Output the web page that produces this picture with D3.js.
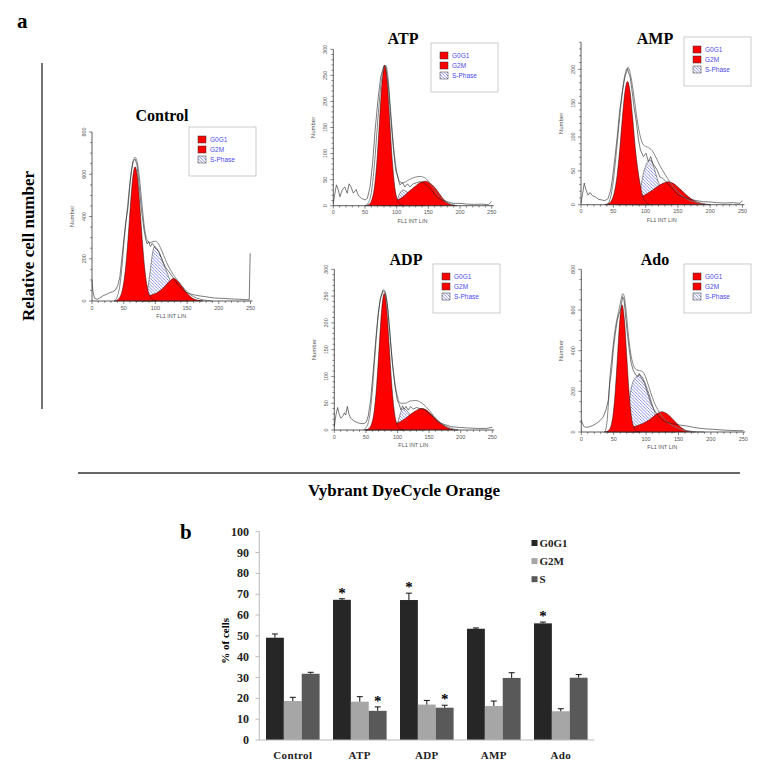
<!DOCTYPE html>
<html><head><meta charset="utf-8">
<script src="https://cdn.jsdelivr.net/npm/d3@7"></script>
<style>body{margin:0;background:#fff}</style>
</head><body>
<svg id="c" width="774" height="775" xmlns="http://www.w3.org/2000/svg"></svg>
<script>
// ================= Panel b data =================
const categories = ["Control", "ATP", "ADP", "AMP", "Ado"];
const seriesNames = ["G0G1", "G2M", "S"];
const g0g1Values = [49.1, 67.3, 67.2, 53.4, 56.0];
const g0g1Errors = [1.8, 0.5, 3.3, 0.4, 0.6];
const g2mValues = [18.7, 18.4, 17.0, 16.3, 13.8];
const g2mErrors = [1.8, 2.4, 2.0, 2.4, 1.2];
const sValues = [31.8, 14.0, 15.5, 29.8, 29.9];
const sErrors = [0.7, 1.9, 1.2, 2.5, 1.5];
const g0g1Signif = [false, true, true, false, true];
const g2mSignif = [false, false, false, false, false];
const sSignif = [false, true, true, false, false];
const barTicks = [0, 10, 20, 30, 40, 50, 60, 70, 80, 90, 100];

// ================= Panel a data (histograms, [FL1, count]) =================
const histTitles = ["Control", "ATP", "AMP", "ADP", "Ado"];
const histLegend = ["G0G1", "G2M", "S-Phase"];
const histXTicks = [0, 50, 100, 150, 200, 250];
const controlYTicks = [0, 200, 400, 600, 800];
const atpYTicks = [0, 50, 100, 150, 200, 250, 300];
const ampYTicks = [0, 50, 100, 150, 200];
const adpYTicks = [0, 50, 100, 150, 200, 250, 300];
const adoYTicks = [0, 200, 400, 600, 800];

const controlData = [[0,100],[1.6,44],[4,13],[8,8],[12,14],[17,24],[23,32],[28,40],[33,44],[37,52],[41,76],[44,115],[46,171],[49,258],[53,368],[57,447],[59.5,542],[62,613],[65,661],[68,672],[71,645],[74,558],[78,432],[82,337],[85,289],[87,270],[89.5,281],[92,258],[95,273],[99,255],[102.6,242],[105,236],[107,223],[111,194],[115,163],[118,152],[120,144],[125,123],[130.5,100],[136,76],[141,60],[149,40],[155,34],[159.5,30],[163,28],[170,24],[178,21],[186,17],[193,14],[201.6,13],[210,12],[217,10],[225,9],[233,8],[240,7],[248,5],[249.5,226]];
const controlFit = [[35,0],[40,22],[44,75],[47,155],[50,262],[54,385],[58,505],[62,612],[65,664],[68,680],[71,662],[75,578],[79,452],[83,342],[87,288],[91,276],[96,281],[100,283],[104,274],[108,252],[113,216],[118,181],[123,151],[128,126],[133,105],[138,86],[145,60],[152,38],[160,21],[170,9],[180,3],[190,0]];
const controlG0G1 = [[35,0],[38,2],[41,7],[44,18],[47,42],[50,86],[53,158],[56,261],[59,385],[62,509],[65,601],[68,635],[71,601],[74,509],[77,385],[80,261],[83,158],[86,86],[89,42],[92,18],[95,7],[98,2],[101,0]];
const controlG2M = [[68,0],[75,5],[80,12],[85,20],[90,25],[95,30],[100,35],[105,44],[110,56],[115,70],[120,87],[125,101],[128,107],[133,101],[138,86],[143,65],[148,44],[153,27],[158,14],[163,7],[168,3],[175,0]];
const controlS = [[80,0],[84,10],[87,40],[90,100],[93,170],[96,235],[99,258],[103,245],[107,220],[111,190],[115,160],[119,130],[123,100],[127,75],[131,50],[135,30],[140,12],[146,3],[152,0]];

const atpData = [[0,4],[2,20],[5,40],[8,30],[10.5,17],[14,30],[18,36],[22,24],[25,42],[28,36],[31.6,24],[36,31],[39.5,20],[44.7,14],[50,11],[53.7,14],[58,36],[62,81],[66,145],[71,209],[75,248],[80,268],[83,265],[87,228],[90.5,171],[95,107],[98.4,68],[101.6,56],[105,40],[109.5,44],[113,36],[117,42],[121,36],[126,42],[131.6,44],[137,46],[143,43],[150,36],[157,27],[163,17],[171,11],[179,8],[189,4.5],[200,4.5],[210.5,3],[221,2.5],[234,3],[245,2],[250,8]];
const atpFit = [[50,0],[55,5],[60,25],[65,80],[70,160],[75,230],[80,266],[83,269],[86,250],[90,190],[95,115],[100,66],[105,46],[110,44],[120,50],[130,55],[137,56],[145,53],[152,44],[160,30],[168,17],[176,8],[185,3],[195,0]];
const atpG0G1 = [[50,0],[53,1],[57,3],[61,12],[65,36],[69,88],[73,164],[77,238],[81,270],[85,238],[89,164],[93,88],[97,36],[101,12],[105,3],[109,1],[112,0]];
const atpG2M = [[75,0],[80,2],[90,5],[100,10],[110,17],[120,28],[130,38],[138,45],[145,47],[152,44],[160,35],[168,22],[175,11],[182,4],[190,1],[195,0]];
const atpS = [[97,0],[100,8],[103,18],[106,26],[110,30],[114,28],[118,25],[122,22],[126,18],[130,12],[135,6],[140,2],[145,0]];

const ampData = [[0,2],[2.6,17],[5,32],[7.7,22],[11,14],[14,18],[18,13],[21.7,12],[27,8],[32,7],[37,6],[42,9],[46,22],[49,41],[52.7,71],[56,100],[60,140],[64.6,169],[68,189],[70.8,197],[72,201],[74,194],[76,189],[78.5,172],[82,145],[86,120],[89,96],[92,81],[96.6,71],[100.7,76],[104,64],[108,71],[111,61],[114.7,56],[118,51],[122,41],[126.5,39],[131.7,34],[138,27],[144,21],[151,14],[158.6,11],[169,8],[179,6],[189.6,4.4],[200,4],[210,3],[223,2.5],[236,3],[246,2],[250,6]];
const ampFit = [[40,0],[45,8],[50,35],[55,80],[60,130],[65,175],[70,199],[73,203],[77,190],[82,160],[87,125],[92,100],[97,88],[103,85],[110,80],[116,70],[122,58],[130,45],[138,33],[146,23],[155,14],[165,8],[175,4],[185,2],[195,0]];
const ampG0G1 = [[37,0],[40,1],[44,2.4],[48,7.5],[52,20],[56,44],[60,82],[64,128],[68,167],[72,182],[76,167],[80,128],[84,84],[88,52],[92,28],[96,11],[100,4],[104,1],[107,0]];
const ampG2M = [[55,0],[60,1],[70,3],[80,6],[90,10],[100,15],[110,21],[120,28],[128,32],[135,34],[142,32],[150,26],[158,19],[166,12],[175,6],[185,2.5],[195,0.5],[200,0]];
const ampS = [[86,0],[90,10],[93,28],[96,44],[100,57],[104,64],[108,66],[112,58],[116,45],[120,33],[125,20],[130,10],[136,4],[142,0]];

const adpData = [[0,6],[2.6,28],[5.3,42],[8,28],[10.5,22],[13,25],[16,32],[18,28],[20.6,44],[23,30],[26,22],[31,17],[36,14],[41.7,12],[47,12],[51,15.5],[54,28],[57.5,56],[61.7,112],[66,174],[69.6,218],[73,246],[77.5,260],[80.7,256],[84,233],[88,180],[92,124],[96,81],[99.7,56],[103,47],[105.5,37],[108,45],[110.8,39],[113.4,44],[117,37],[120.8,44],[125,39],[130,42],[135.5,40],[142,39],[148.7,32],[155.6,25],[162,17],[170,12],[177.7,9],[185.7,6],[196,5],[209,4],[225,3],[241,3],[250,5]];
const adpFit = [[45,0],[50,4],[55,20],[60,70],[65,150],[70,220],[75,255],[78,262],[82,250],[86,210],[90,150],[95,95],[100,62],[105,50],[112,50],[120,54],[128,55],[135,53],[142,47],[150,37],[158,25],[166,15],[175,8],[185,3],[195,0]];
const adpG0G1 = [[48,0],[51,0.6],[55,3],[59,11],[63,34],[67,83],[71,155],[75,225],[79,255],[83,225],[87,155],[91,83],[95,34],[99,11],[103,3],[107,0.6],[110,0]];
const adpG2M = [[50,0],[55,1],[65,2],[75,4],[85,7],[95,11],[105,16],[115,24],[125,33],[132,38],[138,40],[145,38],[152,31],[160,22],[168,13],[176,6],[184,2],[192,0.5],[196,0]];
const adpS = [[96,0],[100,12],[103,25],[106,35],[109,40],[113,38],[117,33],[121,27],[126,18],[132,9],[138,3],[144,0]];

const adoData = [[0,59],[2,39],[4.6,26],[8,23],[13,26],[18.5,33],[23.7,43],[29,56],[34,75],[38,108],[41.7,157],[44,239],[46.8,305],[49.4,403],[52.5,485],[55.6,551],[58.6,583],[61,608],[63.8,665],[66,649],[68,583],[71,485],[74,403],[77,338],[80,305],[84,280],[87,272],[89.5,288],[91.6,272],[94.7,256],[97.7,239],[100.8,206],[104,174],[107.5,141],[111,116],[116,92],[122,67],[129,51],[137,43],[144.5,39],[152,34],[162.5,30],[173,23],[183,18],[193,15],[204,13],[216.6,10],[229,8],[242,6.5],[250,6.5]];
const adoFit = [[36,0],[38,15],[40,60],[42,150],[44,260],[47,360],[50,450],[53,520],[56,570],[59,612],[62,662],[64,680],[66,670],[69,600],[72,500],[76,392],[80,332],[85,306],[90,302],[94,298],[98,280],[102,245],[107,195],[112,150],[118,110],[124,80],[130,58],[137,40],[145,25],[155,12],[165,5],[178,1],[190,0]];
const adoG0G1 = [[35,0],[38,1.4],[42,7],[45.5,27],[49,84],[52.5,203],[56,379],[59.5,551],[63,625],[66.5,551],[70,379],[73.5,203],[77,84],[80.5,27],[84,7],[87.5,1.4],[90,0]];
const adoG2M = [[40,0],[45,2],[55,6],[65,12],[75,20],[85,30],[95,42],[105,60],[112,78],[118,92],[124,100],[130,94],[136,80],[142,60],[148,40],[154,22],[160,10],[166,4],[172,1],[176,0]];
const adoS = [[68,0],[71,60],[74,150],[77,215],[81,255],[85,272],[90,280],[94,270],[98,245],[102,210],[106,172],[110,130],[114,90],[118,60],[122,38],[127,20],[133,8],[140,2],[146,0]];

// ================= Drawing =================
const svg = d3.select("#c");
const SERIF = "'Liberation Serif','Times New Roman',serif";
const SANS = "'Liberation Sans',Arial,sans-serif";

const defs = svg.append("defs");
const pat = defs.append("pattern").attr("id", "hatch").attr("patternUnits", "userSpaceOnUse")
  .attr("width", 3.2).attr("height", 3.2);
pat.append("rect").attr("width", 3.2).attr("height", 3.2).attr("fill", "#fff");
pat.append("path").attr("d", "M-0.8,-0.8L4,4M-0.8,2.4L0.8,4M2.4,-0.8L4,0.8")
  .attr("stroke", "#5b63d6").attr("stroke-width", 0.7);

// Layout (pixel geometry) of each histogram panel
const panels = [
  {title: histTitles[0], x0: 92, x1: 250.5, y0: 301, yRef: 800, yRefPx: 132, yTop: 800, yTicks: controlYTicks, minor: 50,
   leg: [189, 127], tpos: [162, 121], data: controlData, fit: controlFit, g1: controlG0G1, g2: controlG2M, s: controlS},
  {title: histTitles[1], x0: 333.3, x1: 491.7, y0: 205.7, yRef: 300, yRefPx: 49.3, yTop: 300, yTicks: atpYTicks, minor: 10,
   leg: [431, 43], tpos: [403, 44], data: atpData, fit: atpFit, g1: atpG0G1, g2: atpG2M, s: atpS},
  {title: histTitles[2], x0: 581, x1: 742.5, y0: 204.7, yRef: 200, yRefPx: 69.3, yTop: 240, yTicks: ampYTicks, minor: 10,
   leg: [684, 37], tpos: [655, 44], data: ampData, fit: ampFit, g1: ampG0G1, g2: ampG2M, s: ampS},
  {title: histTitles[3], x0: 334.3, x1: 492.3, y0: 430, yRef: 300, yRefPx: 269.3, yTop: 300, yTicks: adpYTicks, minor: 10,
   leg: [433, 264], tpos: [406, 265], data: adpData, fit: adpFit, g1: adpG0G1, g2: adpG2M, s: adpS},
  {title: histTitles[4], x0: 581.3, x1: 743.3, y0: 432, yRef: 800, yRefPx: 269.3, yTop: 800, yTicks: adoYTicks, minor: 50,
   leg: [684, 264], tpos: [655, 265], data: adoData, fit: adoFit, g1: adoG0G1, g2: adoG2M, s: adoS}
];

function drawHist(p) {
  const g = svg.append("g");
  const x = d3.scaleLinear().domain([0, 250]).range([p.x0, p.x1]);
  const y = d3.scaleLinear().domain([0, p.yRef]).range([p.y0, p.yRefPx]);
  const area = d3.area().x(d => x(d[0])).y0(y(0)).y1(d => y(d[1])).curve(d3.curveMonotoneX);
  const smooth = d3.line().x(d => x(d[0])).y(d => y(d[1])).curve(d3.curveMonotoneX);
  const jag = d3.line().x(d => x(d[0])).y(d => y(d[1]));

  g.append("path").datum(p.s).attr("d", area).attr("fill", "url(#hatch)")
    .attr("stroke", "#333").attr("stroke-width", 0.5);
  g.append("path").datum(p.g2).attr("d", area).attr("fill", "#ff0000")
    .attr("stroke", "#300").attr("stroke-width", 0.5);
  g.append("path").datum(p.g1).attr("d", area).attr("fill", "#ff0000")
    .attr("stroke", "#300").attr("stroke-width", 0.5);
  g.append("path").datum(p.fit).attr("d", smooth).attr("fill", "none")
    .attr("stroke", "#777").attr("stroke-width", 0.9);
  g.append("path").datum(p.data).attr("d", jag).attr("fill", "none")
    .attr("stroke", "#222").attr("stroke-width", 0.6);

  // x axis
  const xa = g.append("g").attr("transform", `translate(0,${p.y0})`);
  xa.append("line").attr("x1", x(0)).attr("x2", x(253)).attr("stroke", "#333").attr("stroke-width", 0.8);
  xa.selectAll("line.mt").data(d3.range(0, 251, 10)).join("line").attr("class", "mt")
    .attr("x1", d => x(d)).attr("x2", d => x(d)).attr("y1", 0)
    .attr("y2", d => d % 50 === 0 ? 3 : 1.8).attr("stroke", "#333").attr("stroke-width", 0.6);
  xa.selectAll("text").data(histXTicks).join("text")
    .attr("x", d => x(d)).attr("y", 8.5).attr("text-anchor", "middle")
    .attr("font-family", SANS).attr("font-size", 5.5).attr("fill", "#555").text(d => d);
  g.append("text").attr("x", (x(0) + x(250)) / 2).attr("y", p.y0 + 17)
    .attr("text-anchor", "middle").attr("font-family", SANS).attr("font-size", 5.5)
    .attr("fill", "#555").text("FL1 INT LIN");

  // y axis
  const ya = g.append("g").attr("transform", `translate(${p.x0},0)`);
  ya.append("line").attr("y1", y(0)).attr("y2", y(p.yTop)).attr("stroke", "#333").attr("stroke-width", 0.8);
  const major = p.yTicks[1] - p.yTicks[0];
  ya.selectAll("line.mt").data(d3.range(0, p.yTop + 0.1, p.minor)).join("line").attr("class", "mt")
    .attr("y1", d => y(d)).attr("y2", d => y(d)).attr("x1", 0)
    .attr("x2", d => Math.abs(d % major) < 1e-6 ? -3 : -1.8).attr("stroke", "#333").attr("stroke-width", 0.6);
  ya.selectAll("text").data(p.yTicks).join("text")
    .attr("transform", d => `translate(-6,${y(d)}) rotate(-90)`)
    .attr("text-anchor", "middle").attr("font-family", SANS).attr("font-size", 5.5)
    .attr("fill", "#555").text(d => d);
  g.append("text").attr("transform", `translate(${p.x0 - 18},${(y(0) + y(p.yTop)) / 2}) rotate(-90)`)
    .attr("text-anchor", "middle").attr("font-family", SANS).attr("font-size", 6)
    .attr("fill", "#555").text("Number");

  // title
  g.append("text").attr("x", p.tpos[0]).attr("y", p.tpos[1]).attr("text-anchor", "middle")
    .attr("font-family", SERIF).attr("font-weight", "bold").attr("font-size", 16).text(p.title);

  // legend
  const lg = g.append("g").attr("transform", `translate(${p.leg[0]},${p.leg[1]})`);
  lg.append("rect").attr("width", 67).attr("height", 49).attr("fill", "#fff")
    .attr("stroke", "#aaa").attr("stroke-width", 0.6);
  histLegend.forEach((t, i) => {
    lg.append("rect").attr("x", 9).attr("y", 9 + i * 10).attr("width", 8).attr("height", 7)
      .attr("fill", i < 2 ? "#ff0000" : "url(#hatch)").attr("stroke", "#333").attr("stroke-width", 0.5);
    lg.append("text").attr("x", 21).attr("y", 15 + i * 10).attr("font-family", SANS)
      .attr("font-size", 6.5).attr("fill", "#4a4aee").text(t);
  });
}
panels.forEach(drawHist);

// panel a frame
svg.append("text").attr("x", 17).attr("y", 28).attr("font-family", SERIF).attr("font-weight", "bold")
  .attr("font-size", 21).text("a");
svg.append("line").attr("x1", 42).attr("x2", 42).attr("y1", 63).attr("y2", 409)
  .attr("stroke", "#444").attr("stroke-width", 1.5);
svg.append("text").attr("transform", "translate(34,246) rotate(-90)").attr("text-anchor", "middle")
  .attr("font-family", SERIF).attr("font-weight", "bold").attr("font-size", 17).text("Relative cell number");
svg.append("line").attr("x1", 78).attr("x2", 740).attr("y1", 473).attr("y2", 473)
  .attr("stroke", "#333").attr("stroke-width", 1.3);
svg.append("text").attr("x", 404).attr("y", 496).attr("text-anchor", "middle")
  .attr("font-family", SERIF).attr("font-weight", "bold").attr("font-size", 17).text("Vybrant DyeCycle Orange");

// ================= Panel b =================
svg.append("text").attr("x", 180).attr("y", 539).attr("font-family", SERIF).attr("font-weight", "bold")
  .attr("font-size", 21).text("b");

const xb = d3.scaleBand().domain(categories).range([259.3, 594.3]).paddingInner(0.2).paddingOuter(0.1);
const xs = d3.scaleBand().domain(seriesNames).range([0, xb.bandwidth()]);
const yb = d3.scaleLinear().domain([0, 100]).range([740, 531.7]);
const barColors = {"G0G1": "#262626", "G2M": "#a6a6a6", "S": "#595959"};
const seriesData = {
  "G0G1": {v: g0g1Values, e: g0g1Errors, sig: g0g1Signif},
  "G2M": {v: g2mValues, e: g2mErrors, sig: g2mSignif},
  "S": {v: sValues, e: sErrors, sig: sSignif}
};

const gb = svg.append("g");
// axes
gb.append("line").attr("x1", 259.3).attr("x2", 259.3).attr("y1", yb(0)).attr("y2", yb(100))
  .attr("stroke", "#bbb").attr("stroke-width", 1);
gb.selectAll("line.yt").data(barTicks).join("line").attr("class", "yt")
  .attr("x1", 255.5).attr("x2", 259.3).attr("y1", d => yb(d)).attr("y2", d => yb(d))
  .attr("stroke", "#bbb").attr("stroke-width", 1);
gb.selectAll("text.yl").data(barTicks).join("text").attr("class", "yl")
  .attr("x", 249).attr("y", d => yb(d) + 4).attr("text-anchor", "end")
  .attr("font-family", SERIF).attr("font-weight", "bold").attr("font-size", 12).attr("fill", "#222").text(d => d);
gb.append("text").attr("transform", `translate(229,${(yb(0) + yb(100)) / 2 + 5}) rotate(-90)`)
  .attr("text-anchor", "middle").attr("font-family", SERIF).attr("font-weight", "bold")
  .attr("font-size", 11).text("% of cells");

seriesNames.forEach(sn => {
  const sd = seriesData[sn];
  const rows = categories.map((c, i) => ({c, v: sd.v[i], e: sd.e[i], sig: sd.sig[i]}));
  const gx = d => xb(d.c) + xs(sn);
  gb.selectAll(null).data(rows).join("rect")
    .attr("x", d => gx(d)).attr("width", xs.bandwidth())
    .attr("y", d => yb(d.v)).attr("height", d => yb(0) - yb(d.v)).attr("fill", barColors[sn]);
  gb.selectAll(null).data(rows).join("path")
    .attr("d", d => {
      const cx = gx(d) + xs.bandwidth() / 2, t = yb(d.v + d.e);
      return `M${cx},${yb(d.v)}V${t}M${cx - 3},${t}H${cx + 3}`;
    }).attr("stroke", "#111").attr("stroke-width", 1).attr("fill", "none");
  gb.selectAll(null).data(rows.filter(d => d.sig)).join("text")
    .attr("x", d => gx(d) + xs.bandwidth() / 2).attr("y", d => yb(d.v + d.e) - 1)
    .attr("text-anchor", "middle").attr("font-family", SERIF).attr("font-weight", "bold")
    .attr("font-size", 15).text("*");
});

gb.append("line").attr("x1", 259.3).attr("x2", 594.3).attr("y1", yb(0)).attr("y2", yb(0))
  .attr("stroke", "#bbb").attr("stroke-width", 1);
gb.selectAll("text.xl").data(categories).join("text").attr("class", "xl")
  .attr("x", d => xb(d) + xb.bandwidth() / 2).attr("y", 759).attr("text-anchor", "middle")
  .attr("font-family", SERIF).attr("font-weight", "bold").attr("font-size", 11)
  .attr("letter-spacing", 0.4).attr("fill", "#222").text(d => d);

// legend b
const lgb = gb.append("g");
seriesNames.forEach((sn, i) => {
  lgb.append("rect").attr("x", 531.5).attr("y", 540 + i * 18.1).attr("width", 6).attr("height", 6)
    .attr("fill", barColors[sn]);
  lgb.append("text").attr("x", 539.5).attr("y", 546.5 + i * 18.1).attr("font-family", SERIF)
    .attr("font-weight", "bold").attr("font-size", 11).attr("fill", "#222").text(sn);
});
</script>
</body></html>
